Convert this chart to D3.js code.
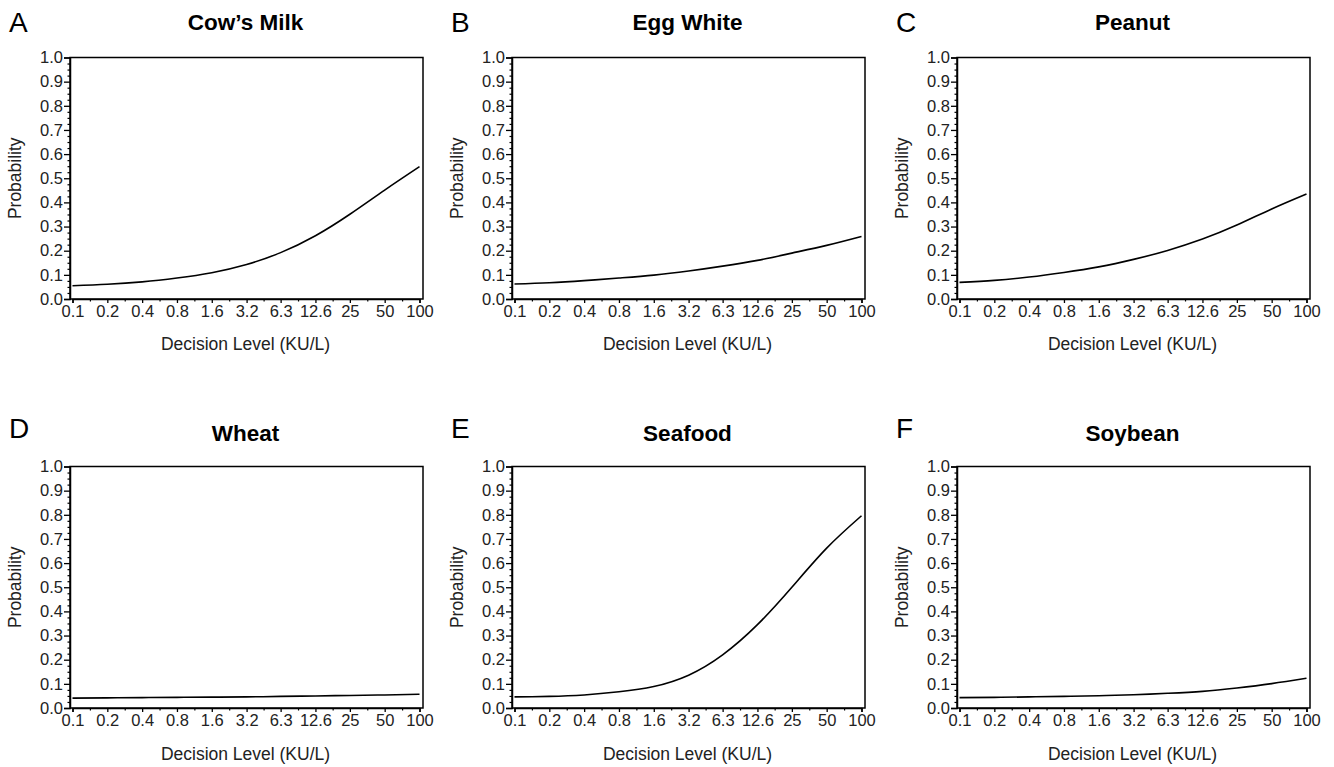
<!DOCTYPE html>
<html>
<head>
<meta charset="utf-8">
<script src="https://cdn.jsdelivr.net/npm/d3@7"></script>
<style>
  html, body { margin: 0; padding: 0; background: #fff; }
  svg { display: block; font-family: "Liberation Sans", Arial, Helvetica, sans-serif; }
</style>
</head>
<body>
<svg id="chart" width="1334" height="767"></svg>
<script>
// ---- data ----
const decisionLevels = [0.1, 0.2, 0.4, 0.8, 1.6, 3.2, 6.3, 12.6, 25, 50, 100];
const levelLabels = ["0.1", "0.2", "0.4", "0.8", "1.6", "3.2", "6.3", "12.6", "25", "50", "100"];
const panelLetters = ["A", "B", "C", "D", "E", "F"];
const panelTitles = ["Cow\u2019s Milk", "Egg White", "Peanut", "Wheat", "Seafood", "Soybean"];
const cowsMilk  = [0.055, 0.061, 0.071, 0.087, 0.109, 0.143, 0.192, 0.262, 0.351, 0.451, 0.548];
const eggWhite  = [0.062, 0.067, 0.076, 0.087, 0.099, 0.116, 0.136, 0.160, 0.190, 0.222, 0.259];
const peanut    = [0.069, 0.077, 0.091, 0.110, 0.133, 0.164, 0.201, 0.248, 0.306, 0.373, 0.435];
const wheat     = [0.041, 0.042, 0.043, 0.044, 0.045, 0.046, 0.048, 0.050, 0.052, 0.054, 0.057];
const seafood   = [0.046, 0.048, 0.054, 0.067, 0.089, 0.136, 0.220, 0.345, 0.500, 0.662, 0.796];
const soybean   = [0.043, 0.044, 0.046, 0.048, 0.051, 0.055, 0.061, 0.069, 0.083, 0.101, 0.123];
const seriesList = [cowsMilk, eggWhite, peanut, wheat, seafood, soybean];
const yMajorTicks = [0, 0.1, 0.2, 0.3, 0.4, 0.5, 0.6, 0.7, 0.8, 0.9, 1.0];
const yTitle = "Probability";
const xTitle = "Decision Level (KU/L)";

// ---- layout ----
const svg = d3.select("#chart");
const colLeft = [70, 512, 957];
const rowTop = [57.5, 466.5];
const plotW = 353, plotH = 241.5;
const letterBaseline = [32, 438];
const titleBaseline = [30, 441];
const font = "Liberation Sans, Arial, sans-serif";

const yMinor = d3.range(0, 1.0001, 0.025).filter(v => Math.abs(v * 10 - Math.round(v * 10)) > 1e-6);
const xMinor = d3.range(decisionLevels.length - 1).map(i => Math.sqrt(decisionLevels[i] * decisionLevels[i + 1]));

panelTitles.forEach((title, i) => {
  const col = i % 3, row = Math.floor(i / 3);
  const left = colLeft[col], top = rowTop[row];
  const g = svg.append("g").attr("transform", `translate(${left},${top})`);

  const x = d3.scaleLog().base(2).domain([0.1, 100]).range([2.5, plotW - 3.5]);
  const y = d3.scaleLinear().domain([0, 1]).range([plotH, 0]);

  // frame
  g.append("rect").attr("x", 0).attr("y", 0).attr("width", plotW).attr("height", plotH)
    .attr("fill", "none").attr("stroke", "#000").attr("stroke-width", 1.5);

  // y axis
  const yAx = g.append("g").call(d3.axisLeft(y).tickValues(yMajorTicks).tickFormat(d3.format(".1f")).tickSize(6).tickPadding(1));
  yAx.select(".domain").attr("stroke-width", 1.5);
  yAx.selectAll(".tick line").attr("stroke-width", 1.3);
  yAx.selectAll("text").attr("font-size", 16.5).attr("fill", "#222").attr("font-family", font);
  const yAxMin = g.append("g").call(d3.axisLeft(y).tickValues(yMinor).tickFormat("").tickSize(2.5));
  yAxMin.select(".domain").remove();
  yAxMin.selectAll(".tick line").attr("stroke-width", 1.2);

  // x axis
  const xAx = g.append("g").attr("transform", `translate(0,${plotH})`)
    .call(d3.axisBottom(x).tickValues(decisionLevels).tickFormat((d, k) => levelLabels[k]).tickSize(4).tickPadding(2));
  xAx.select(".domain").attr("stroke-width", 1.5);
  xAx.selectAll(".tick line").attr("stroke-width", 1.3);
  xAx.selectAll("text").attr("font-size", 16.5).attr("fill", "#222").attr("font-family", font);
  const xAxMin = g.append("g").attr("transform", `translate(0,${plotH})`)
    .call(d3.axisBottom(x).tickValues(xMinor).tickFormat("").tickSize(2.5));
  xAxMin.select(".domain").remove();
  xAxMin.selectAll(".tick line").attr("stroke-width", 1.2);

  // curve
  const data = decisionLevels.map((d, k) => ({ x: d, y: seriesList[i][k] }));
  const line = d3.line().x(d => x(d.x)).y(d => y(d.y)).curve(d3.curveNatural);
  g.append("path").datum(data).attr("d", line)
    .attr("fill", "none").attr("stroke", "#000").attr("stroke-width", 1.6);

  // axis titles
  g.append("text").attr("x", plotW / 2 - 1).attr("y", plotH + (row === 0 ? 51 : 52))
    .attr("text-anchor", "middle").attr("font-size", 17.5).attr("fill", "#222").text(xTitle);
  g.append("text").attr("transform", `translate(-49,${plotH / 2}) rotate(-90)`)
    .attr("text-anchor", "middle").attr("font-size", 17.5).attr("fill", "#222").text(yTitle);

  // panel title and letter
  svg.append("text").attr("x", left + plotW / 2 - 1).attr("y", titleBaseline[row])
    .attr("text-anchor", "middle").attr("font-size", 22.5).attr("font-weight", "bold").attr("fill", "#000").text(title);
  svg.append("text").attr("x", left - 61).attr("y", letterBaseline[row])
    .attr("font-size", 28).attr("fill", "#000").text(panelLetters[i]);
});
</script>
</body>
</html>
